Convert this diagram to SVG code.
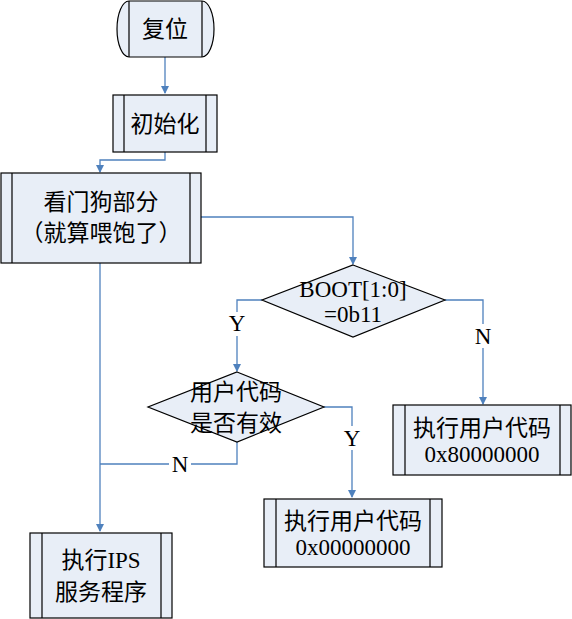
<svg xmlns="http://www.w3.org/2000/svg" width="572" height="619" viewBox="0 0 572 619">
<style>
.shape{fill:#E8EEF7;stroke:#000;stroke-width:1.2}
.inner{fill:none;stroke:#000;stroke-width:1.2}
.conn{fill:none;stroke:#4F81BD;stroke-width:1.3}
.t{font-family:"Liberation Serif","Noto Sans CJK SC",serif;font-size:23px;fill:#000;text-anchor:middle}
</style>
<defs>
<marker id="arr" markerWidth="8" markerHeight="8" refX="7" refY="4" orient="auto" markerUnits="userSpaceOnUse">
<path d="M0,0 L8,4 L0,8 Z" fill="#4F81BD"/>
</marker>
</defs>
<rect width="572" height="619" fill="#fff"/>
<g id="connectors">
<path class="conn" d="M165,57 V93" marker-end="url(#arr)"/>
<path class="conn" d="M165,152 V160 H100 V172" marker-end="url(#arr)"/>
<path class="conn" d="M201,217 H353 V264" marker-end="url(#arr)"/>
<path class="conn" d="M100,263 V531" marker-end="url(#arr)"/>
<path class="conn" d="M262,300 H237 V371" marker-end="url(#arr)"/>
<path class="conn" d="M445,300 H483 V404" marker-end="url(#arr)"/>
<path class="conn" d="M324,407 H352 V497" marker-end="url(#arr)"/>
<path class="conn" d="M237,442 V464 H100"/>
<rect x="226" y="312" width="22" height="24" fill="#fff"/>
<text class="t" x="237" y="331">Y</text>
<rect x="472" y="324" width="22" height="24" fill="#fff"/>
<text class="t" x="483" y="344">N</text>
<rect x="341" y="426" width="22" height="24" fill="#fff"/>
<text class="t" x="352" y="446">Y</text>
<rect x="169" y="454" width="22" height="22" fill="#fff"/>
<text class="t" x="180" y="472">N</text>
</g>
<g id="reset">
<path class="shape" d="M129,1 H202 A12,28 0 0 1 202,57 H129 A12,28 0 0 1 129,1 Z"/>
<path class="inner" d="M129,1 V57 M202,1 V57"/>
<text class="t" x="165" y="37">复位</text>
</g>
<g id="init">
<rect class="shape" x="113" y="95" width="104" height="57"/>
<path class="inner" d="M124,95 V152 M206,95 V152"/>
<text class="t" x="165" y="132">初始化</text>
</g>
<g id="watchdog">
<rect class="shape" x="1" y="173" width="200" height="90"/>
<path class="inner" d="M12,173 V263 M190,173 V263"/>
<text class="t" x="101" y="210">看门狗部分</text>
<text class="t" x="101" y="241">（就算喂饱了）</text>
</g>
<g id="boot">
<path class="shape" d="M353,265 L445,300 L353,337 L262,300 Z"/>
<text class="t" x="353" y="297">BOOT[1:0]</text>
<text class="t" x="353" y="322">=0b11</text>
</g>
<g id="valid">
<path class="shape" d="M237,372 L324,407 L237,442 L148,407 Z"/>
<text class="t" x="236" y="400">用户代码</text>
<text class="t" x="236" y="431">是否有效</text>
</g>
<g id="user8">
<rect class="shape" x="393" y="405" width="178" height="70"/>
<path class="inner" d="M405,405 V475 M560,405 V475"/>
<text class="t" x="482" y="436">执行用户代码</text>
<text class="t" x="482" y="462">0x80000000</text>
</g>
<g id="user0">
<rect class="shape" x="264" y="499" width="178" height="68"/>
<path class="inner" d="M276,499 V567 M430,499 V567"/>
<text class="t" x="353" y="529">执行用户代码</text>
<text class="t" x="353" y="555">0x00000000</text>
</g>
<g id="ips">
<rect class="shape" x="30" y="533" width="142" height="85"/>
<path class="inner" d="M42,533 V618 M161,533 V618"/>
<text class="t" x="101" y="568">执行IPS</text>
<text class="t" x="101" y="600">服务程序</text>
</g>
</svg>
